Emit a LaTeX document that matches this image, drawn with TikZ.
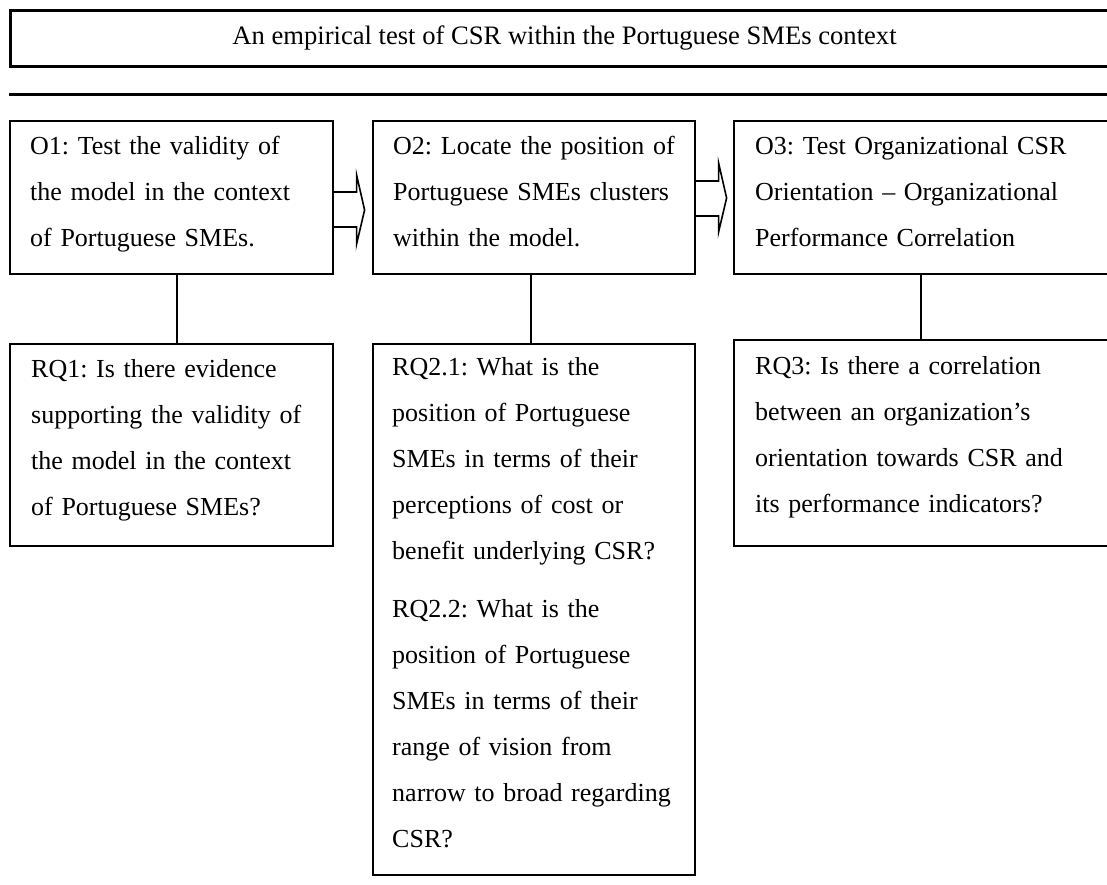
\documentclass[tikz,border=0pt]{standalone}
\usepackage{fontspec}
\setmainfont{Liberation Serif}
\usetikzlibrary{calc}
\begin{document}
\frenchspacing
\begin{tikzpicture}[x=1pt,y=-1pt,
  box/.style={draw, line width=1.6pt, inner sep=0pt, anchor=north west},
  headbox/.style={draw, line width=3pt, inner sep=0pt, anchor=north west},
  headfont/.style={font=\fontsize{26.6}{46}\selectfont},
  bodyfont/.style={font=\fontsize{26}{46}\selectfont},
  txt/.style={bodyfont, anchor=base west, inner sep=0pt, text width=360pt, align=left},
  link/.style={line width=1.6pt},
  blockarrow/.style={line width=1.6pt, line join=miter}]
\useasboundingbox (0,0) rectangle (1107,885);
\clip (0,0) rectangle (1107,885);

% heading box and rule beneath it
\node[headbox, headfont, minimum width=1108pt, minimum height=56pt] (title) at (9,9)
  {An empirical test of CSR within the Portuguese SMEs context};
\draw[line width=3pt] (9,95) -- (1120,95);

% objective boxes
\node[box, minimum width=323pt, minimum height=153pt] (o1) at (9,120) {};
\node[box, minimum width=322pt, minimum height=153pt] (o2) at (372,120) {};
\node[box, minimum width=390pt, minimum height=153pt] (o3) at (733,120) {};

% research question boxes
\node[box, minimum width=323pt, minimum height=202pt] (rq1) at (9,343) {};
\node[box, minimum width=322pt, minimum height=531pt] (rq2) at (372,343) {};
\node[box, minimum width=390pt, minimum height=206pt] (rq3) at (733,339) {};

% texts
\node[txt] (o1t) at (30,155) {O1: Test the validity of\\the model in the context\\of Portuguese SMEs.};
\node[txt] (o2t) at (393,155) {O2: Locate the position of\\Portuguese SMEs clusters\\within the model.};
\node[txt] (o3t) at (755,155) {O3: Test Organizational CSR\\Orientation – Organizational\\Performance Correlation};
\node[txt] (rq1t) at (31,377) {RQ1: Is there evidence\\supporting the validity of\\the model in the context\\of Portuguese SMEs?};
\node[txt] (rq2t) at (392,375) {RQ2.1: What is the\\position of Portuguese\\SMEs in terms of their\\perceptions of cost or\\benefit underlying CSR?\\[12pt]RQ2.2: What is the\\position of Portuguese\\SMEs in terms of their\\range of vision from\\narrow to broad regarding\\CSR?};
\node[txt] (rq3t) at (755,374) {RQ3: Is there a correlation\\between an organization’s\\orientation towards CSR and\\its performance indicators?};

% links from objectives to research questions
\draw[link] ([xshift=5.5pt]o1.south) -- ([xshift=5.5pt]o1.south |- rq1.north);
\draw[link] ([xshift=-3pt]o2.south) -- ([xshift=-3pt]o2.south |- rq2.north);
\draw[link] ([xshift=-8pt]o3.south) -- ([xshift=-8pt]o3.south |- rq3.north);

% block arrows between objectives
\draw[blockarrow] ($(o1.north east)+(0,72)$) -- ++(23,0) -- ++(0,-17) -- ++(8,35)
  -- ++(-8,34) -- ++(0,-17) -- ++(-23,0);
\draw[blockarrow] ($(o2.north east)+(0,61)$) -- ++(23,0) -- ++(0,-18) -- ++(8,35)
  -- ++(-8,34) -- ++(0,-16) -- ++(-23,0);
\end{tikzpicture}
\end{document}
